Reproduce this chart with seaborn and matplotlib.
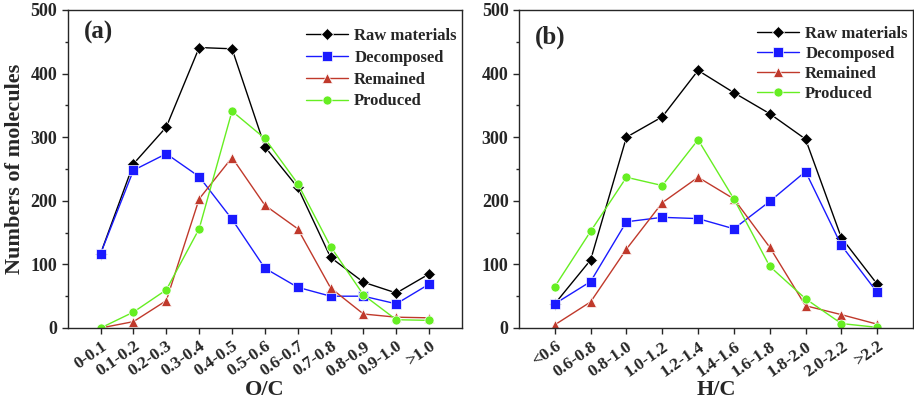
import numpy as np
import pandas as pd
import matplotlib
matplotlib.use("Agg")
import matplotlib.pyplot as plt
import matplotlib.transforms as mtransforms
import seaborn as sns

# O/C classes (panel a)
oc_labels = ["0-0.1", "0.1-0.2", "0.2-0.3", "0.3-0.4", "0.4-0.5", "0.5-0.6",
             "0.6-0.7", "0.7-0.8", "0.8-0.9", "0.9-1.0", ">1.0"]
oc_raw = [117, 258, 316, 441, 439, 285, 221, 111, 72, 55, 85]
oc_decomposed = [117, 248, 274, 238, 171, 94, 64, 50, 50, 38, 69]
oc_remained = [0, 10, 43, 203, 268, 193, 156, 63, 22, 17, 16]
oc_produced = [0, 25, 60, 156, 341, 298, 227, 128, 52, 13, 12]

# H/C classes (panel b)
hc_labels = ["<0.6", "0.6-0.8", "0.8-1.0", "1.0-1.2", "1.2-1.4", "1.4-1.6",
             "1.6-1.8", "1.8-2.0", "2.0-2.2", ">2.2"]
hc_raw = [38, 107, 300, 332, 405, 370, 337, 297, 142, 69]
hc_decomposed = [38, 73, 167, 174, 172, 156, 199, 246, 130, 56]
hc_remained = [5, 41, 124, 197, 237, 203, 127, 35, 21, 6]
hc_produced = [65, 152, 237, 224, 296, 203, 97, 46, 7, 1]

series = ["Raw materials", "Decomposed", "Remained", "Produced"]
colors = {"Raw materials": "#000000", "Decomposed": "#1a1aff",
          "Remained": "#c0392b", "Produced": "#66ee22"}
markers = {"Raw materials": "D", "Decomposed": "s",
           "Remained": "^", "Produced": "o"}


def long_form(labels, *cols):
    frames = []
    for name, vals in zip(series, cols):
        frames.append(pd.DataFrame({"x": np.arange(len(labels)),
                                    "count": vals, "series": name}))
    return pd.concat(frames, ignore_index=True)


df_a = long_form(oc_labels, oc_raw, oc_decomposed, oc_remained, oc_produced)
df_b = long_form(hc_labels, hc_raw, hc_decomposed, hc_remained, hc_produced)

sns.set_style("ticks")
plt.rcParams["font.family"] = ["Liberation Serif", "DejaVu Serif"]
plt.rcParams["font.weight"] = "bold"

fig = plt.figure(figsize=(9.14, 4.0), dpi=100)
ax1 = fig.add_axes([0.0741, 0.18, 0.4314, 0.795])
ax2 = fig.add_axes([0.5678, 0.18, 0.4311, 0.795])


def draw(ax, df, labels, xlabel, tag, tag_y, leg_anchor, leg_space):
    sns.lineplot(data=df, x="x", y="count", hue="series", style="series",
                 hue_order=series, style_order=series, palette=colors,
                 markers=markers, dashes=False, linewidth=1.0,
                 markersize=6.5, markeredgewidth=0.5, ax=ax)
    ax.set_xlim(-1, len(labels))
    ax.set_ylim(0, 500)
    ax.set_xticks(np.arange(len(labels)))
    ax.set_xticklabels(labels, rotation=35, ha="right",
                       rotation_mode="anchor", fontsize=12.5, fontweight="bold")
    shift = mtransforms.ScaledTranslation(7 / 100, 0, fig.dpi_scale_trans)
    for t in ax.get_xticklabels():
        t.set_transform(t.get_transform() + shift)
    ax.set_yticks([0, 100, 200, 300, 400, 500])
    ax.set_yticks([50, 150, 250, 350, 450], minor=True)
    for t in ax.get_yticklabels():
        t.set_fontsize(13)
        t.set_fontweight("bold")
    ax.tick_params(axis="both", which="major", direction="out", length=4, width=1)
    ax.tick_params(axis="y", which="minor", direction="out", length=2, width=1)
    ax.set_xlabel(xlabel, fontsize=16, fontweight="bold", labelpad=0)
    for sp in ax.spines.values():
        sp.set_linewidth(1.0)
        sp.set_visible(True)
    ax.text(0.04, tag_y, tag, transform=ax.transAxes, fontsize=18,
            fontweight="bold", va="center", ha="left")
    leg = ax.legend(loc="upper right", bbox_to_anchor=leg_anchor,
                    frameon=False, fontsize=12, handlelength=2.5,
                    handletextpad=0.4, labelspacing=leg_space,
                    borderaxespad=0.2, title=None)
    for t in leg.get_texts():
        t.set_fontweight("bold")


draw(ax1, df_a, oc_labels, "O/C", "(a)", 0.928, (1.012, 0.975), 0.35)
draw(ax2, df_b, hc_labels, "H/C", "(b)", 0.915, (1.012, 0.982), 0.25)
ax1.set_ylabel("Numbers of molecules", fontsize=16, fontweight="bold", labelpad=4)
ax2.set_ylabel("")

fig.savefig("out.png", dpi=100)
